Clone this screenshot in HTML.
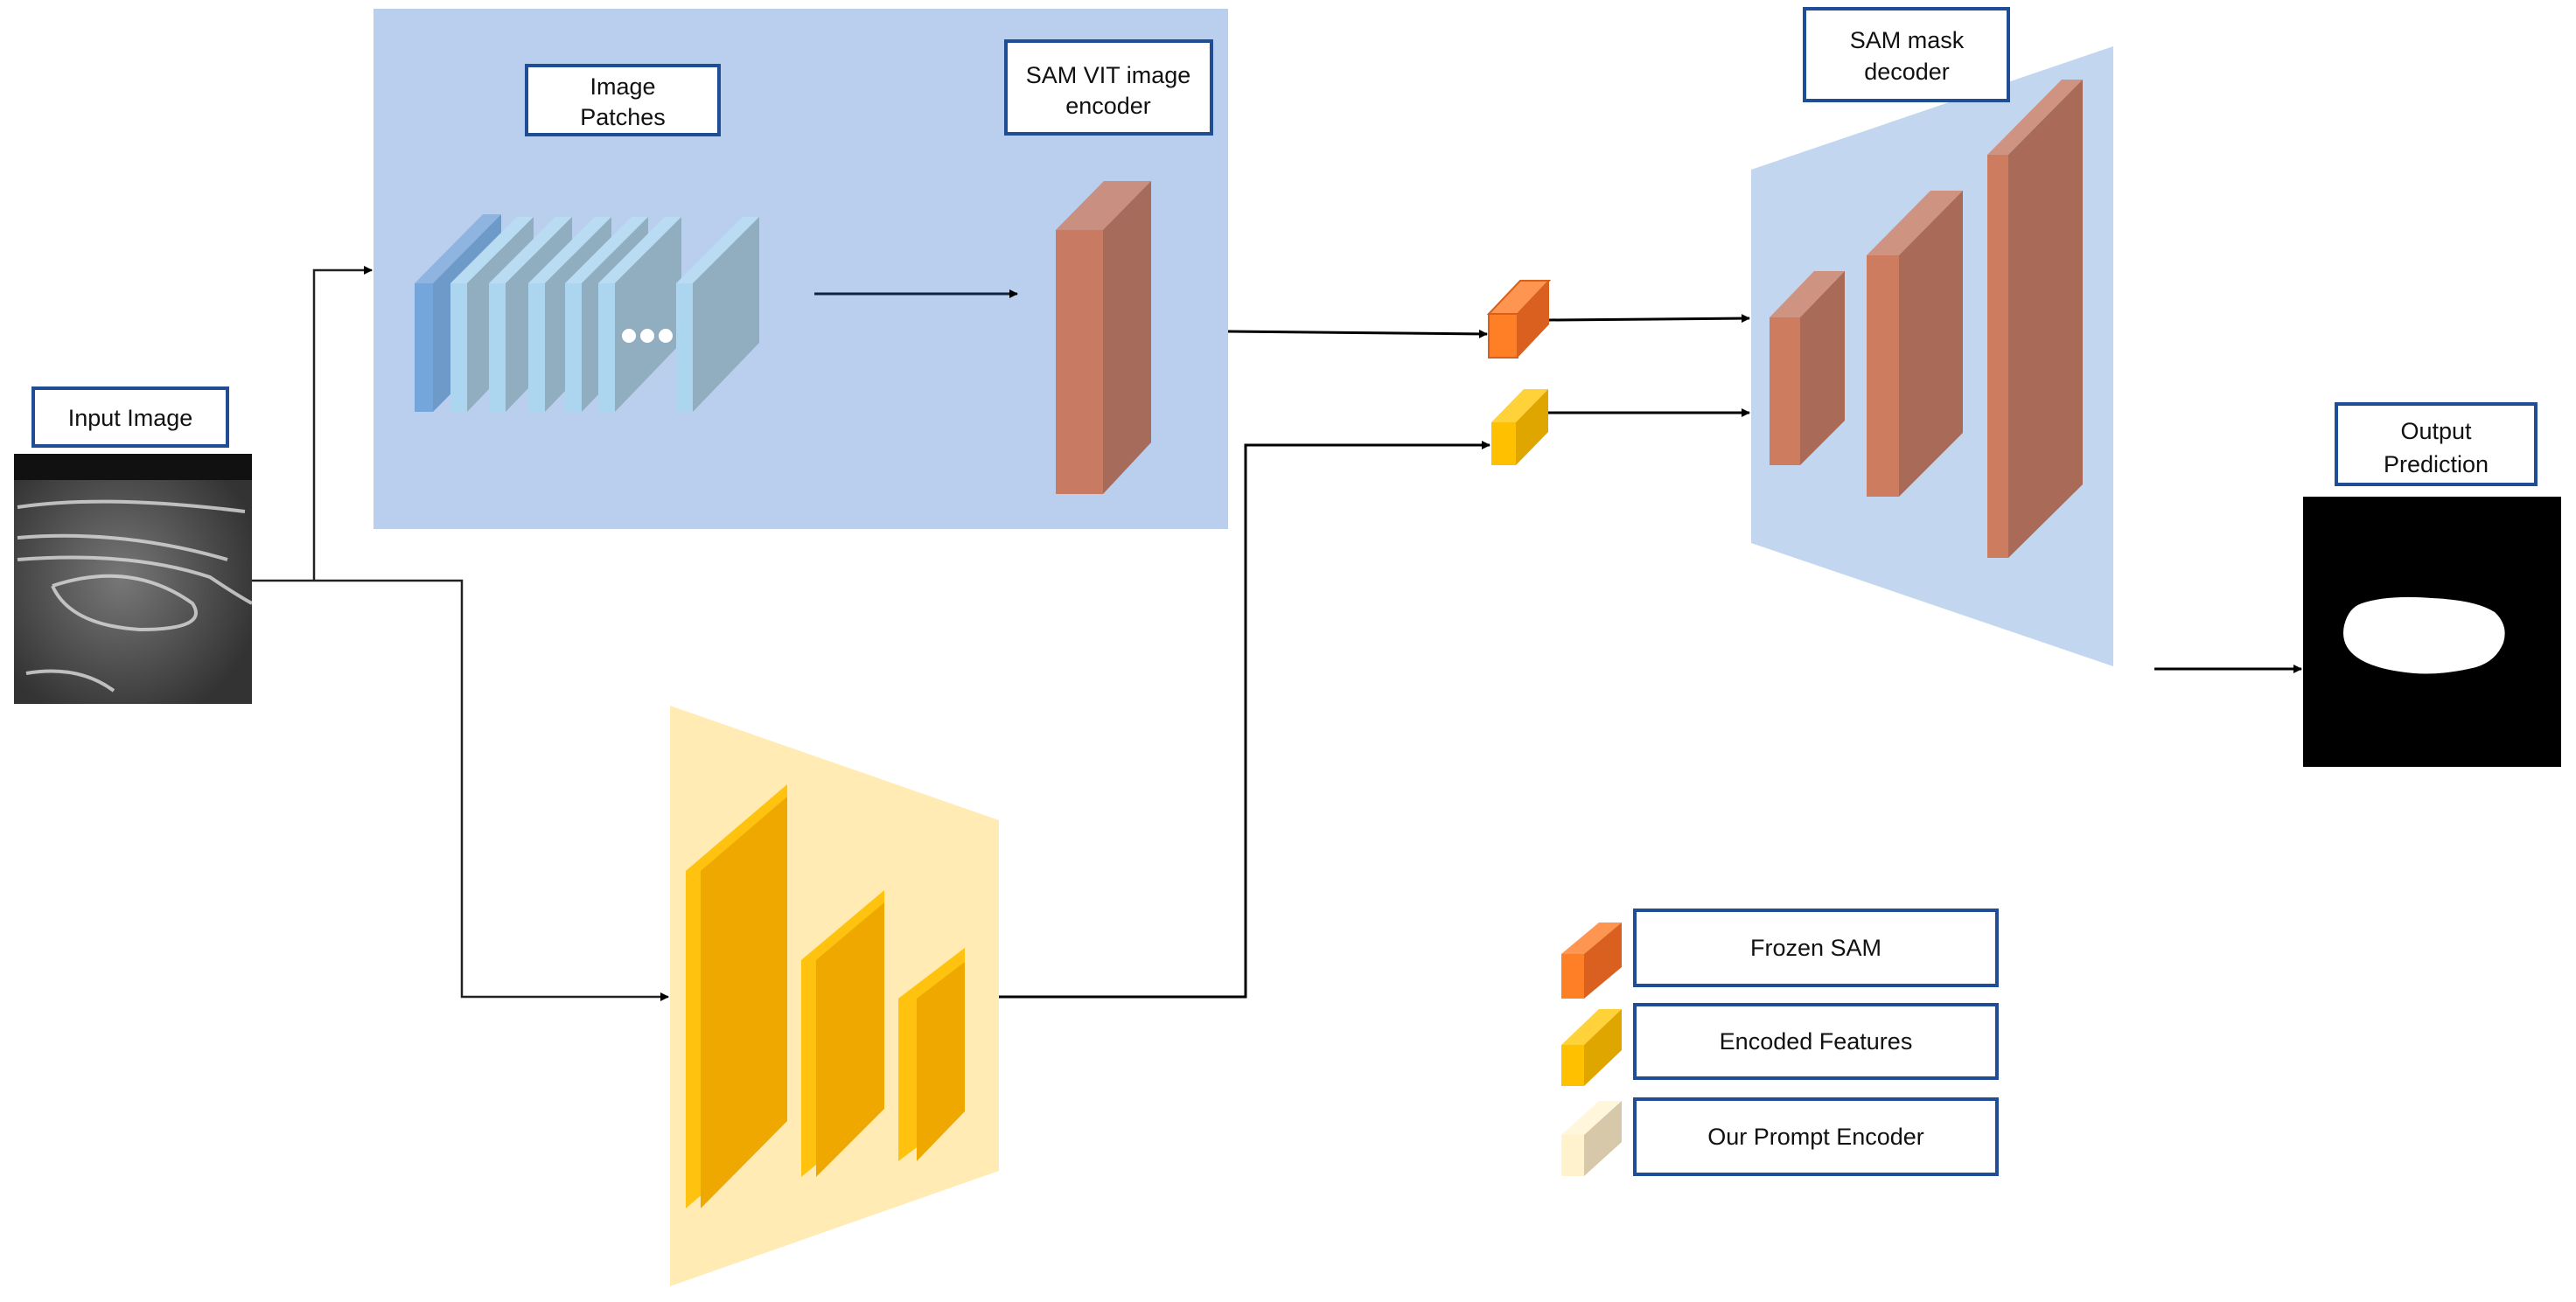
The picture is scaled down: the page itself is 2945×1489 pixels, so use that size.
<!DOCTYPE html>
<html><head><meta charset="utf-8"><style>
html,body{margin:0;padding:0;background:#fff;}
svg{display:block;}
text{font-family:"Liberation Sans",sans-serif;fill:#111;}
</style></head><body>
<svg width="2945" height="1489" viewBox="0 0 2945 1489" xmlns="http://www.w3.org/2000/svg">
<defs>
<marker id="ar" markerWidth="10" markerHeight="10" refX="9" refY="5" orient="auto" markerUnits="userSpaceOnUse" viewBox="0 0 10 10">
<path d="M0,0 L10,5 L0,10 z" fill="#000"/></marker>
<radialGradient id="us" cx="0.45" cy="0.5" r="0.6"><stop offset="0" stop-color="#777"/><stop offset="1" stop-color="#333"/></radialGradient>
</defs>

<!-- blue encoder box -->
<rect x="427" y="10" width="977" height="595" fill="#b9cfed"/>
<!-- decoder trapezoid -->
<polygon points="2002,194 2416,53 2416,762 2002,621" fill="#c2d6f0"/>
<!-- yellow trapezoid -->
<polygon points="766,807 1142,938 1142,1339 766,1471" fill="#ffebb3"/>

<!-- labels -->
<g fill="#fff" stroke="#1f4e96" stroke-width="4">
<rect x="38" y="444" width="222" height="66"/>
<rect x="602" y="75" width="220" height="79"/>
<rect x="1150" y="47" width="235" height="106"/>
<rect x="2063" y="10" width="233" height="105"/>
<rect x="2671" y="462" width="228" height="92"/>
<rect x="1869" y="1041" width="414" height="86"/>
<rect x="1869" y="1149" width="414" height="84"/>
<rect x="1869" y="1257" width="414" height="86"/>
</g>
<g font-size="27" text-anchor="middle">
<text x="149" y="487">Input Image</text>
<text x="712" y="108">Image</text><text x="712" y="143">Patches</text>
<text x="1267" y="95">SAM VIT image</text><text x="1267" y="130">encoder</text>
<text x="2180" y="55">SAM mask</text><text x="2180" y="91">decoder</text>
<text x="2785" y="502">Output</text><text x="2785" y="540">Prediction</text>
<text x="2076" y="1093">Frozen SAM</text>
<text x="2076" y="1200">Encoded Features</text>
<text x="2076" y="1309">Our Prompt Encoder</text>
</g>

<!-- input ultrasound image -->
<rect x="16" y="519" width="272" height="286" fill="url(#us)"/>
<rect x="16" y="519" width="272" height="30" fill="#111"/>
<g fill="none" stroke="#ddd" stroke-width="4" opacity="0.8">
<path d="M20,580 Q120,565 280,585"/>
<path d="M20,615 Q140,605 260,640"/>
<path d="M20,640 Q150,630 240,660 Q270,680 288,690"/>
<path d="M60,670 Q150,640 220,690 Q240,720 160,720 Q80,715 60,670"/>
<path d="M30,770 Q90,760 130,790"/>
</g>

<!-- patches -->
<g>
<polygon points="474,324 495,324 573,245 552,245" fill="#8fb4e0"/>
<rect x="474" y="324" width="21" height="147" fill="#74a6dc"/>
<polygon points="495,324 573,245 573,392 495,471" fill="#6d9ac9"/>
</g>
<g id="p">
</g>
<g fill="#a9d1ef">
</g>
<!-- light patches -->
<g>
<polygon points="515,324 534,324 610,248 591,248" fill="#b9dcf3"/><rect x="515" y="324" width="19" height="147" fill="#acd5f0"/><polygon points="534,324 610,248 610,392 534,471" fill="#91aec0"/>
<polygon points="559,324 578,324 654,248 635,248" fill="#b9dcf3"/><rect x="559" y="324" width="19" height="147" fill="#acd5f0"/><polygon points="578,324 654,248 654,392 578,471" fill="#91aec0"/>
<polygon points="604,324 623,324 699,248 680,248" fill="#b9dcf3"/><rect x="604" y="324" width="19" height="147" fill="#acd5f0"/><polygon points="623,324 699,248 699,392 623,471" fill="#91aec0"/>
<polygon points="646,324 665,324 741,248 722,248" fill="#b9dcf3"/><rect x="646" y="324" width="19" height="147" fill="#acd5f0"/><polygon points="665,324 741,248 741,392 665,471" fill="#91aec0"/>
<polygon points="684,324 703,324 779,248 760,248" fill="#b9dcf3"/><rect x="684" y="324" width="19" height="147" fill="#acd5f0"/><polygon points="703,324 779,248 779,392 703,471" fill="#91aec0"/>
<polygon points="773,324 792,324 868,248 849,248" fill="#b9dcf3"/><rect x="773" y="324" width="19" height="147" fill="#acd5f0"/><polygon points="792,324 868,248 868,392 792,471" fill="#91aec0"/>
</g>
<g fill="#fff"><circle cx="719" cy="384" r="8"/><circle cx="740" cy="384" r="8"/><circle cx="761" cy="384" r="8"/></g>

<!-- encoder block -->
<polygon points="1207,263 1261,263 1316,207 1262,207" fill="#c98f80"/>
<rect x="1207" y="263" width="54" height="302" fill="#c87b62"/>
<polygon points="1261,263 1316,207 1316,506 1261,565" fill="#a66b5b"/>

<!-- decoder blocks -->
<polygon points="2023,363 2058,363 2109,310 2074,310" fill="#cf9382"/>
<rect x="2023" y="363" width="35" height="169" fill="#cd7c5f"/>
<polygon points="2058,363 2109,310 2109,481 2058,532" fill="#a96a58"/>
<polygon points="2134,292 2171,292 2244,218 2207,218" fill="#cf9382"/>
<rect x="2134" y="292" width="37" height="276" fill="#cd7c5f"/>
<polygon points="2171,292 2244,218 2244,495 2171,568" fill="#a96a58"/>
<polygon points="2272,177 2296,177 2381,91 2357,91" fill="#cf9382"/>
<rect x="2272" y="177" width="24" height="461" fill="#cd7c5f"/>
<polygon points="2296,177 2381,91 2381,554 2296,638" fill="#a96a58"/>

<!-- small cubes -->
<polygon points="1702,359 1735,359 1771,321 1738,321" fill="#fe9550" stroke="#d9601a" stroke-width="2"/>
<rect x="1702" y="359" width="33" height="50" fill="#ff7f27" stroke="#d9601a" stroke-width="2"/>
<polygon points="1735,359 1771,321 1771,371 1735,409" fill="#d9601e"/>
<polygon points="1705,483 1733,483 1770,445 1742,445" fill="#ffd23a"/>
<rect x="1705" y="483" width="28" height="49" fill="#ffc000"/>
<polygon points="1733,483 1770,445 1770,494 1733,532" fill="#e0a600"/>

<!-- yellow blocks -->
<polygon points="784,996 900,897 900,1282 784,1382" fill="#ffc20e"/>
<polygon points="801,996 900,911 900,1282 801,1382" fill="#eea800"/>
<polygon points="916,1098 1011,1018 1011,1268 916,1346" fill="#ffc20e"/>
<polygon points="933,1098 1011,1032 1011,1268 933,1346" fill="#eea800"/>
<polygon points="1027,1142 1103,1084 1103,1271 1027,1328" fill="#ffc20e"/>
<polygon points="1048,1142 1103,1100 1103,1271 1048,1328" fill="#eea800"/>

<!-- legend icons -->
<polygon points="1785,1091 1811,1091 1854,1055 1828,1055" fill="#fe9550"/>
<rect x="1785" y="1091" width="26" height="51" fill="#ff7f27"/>
<polygon points="1811,1091 1854,1055 1854,1106 1811,1142" fill="#d9601e"/>
<polygon points="1785,1195 1811,1195 1854,1154 1828,1154" fill="#ffd23a"/>
<rect x="1785" y="1195" width="26" height="47" fill="#ffc000"/>
<polygon points="1811,1195 1854,1154 1854,1201 1811,1242" fill="#e0a600"/>
<polygon points="1785,1298 1811,1298 1854,1259 1828,1259" fill="#fff6dc"/>
<rect x="1785" y="1298" width="26" height="47" fill="#fff2cc"/>
<polygon points="1811,1298 1854,1259 1854,1306 1811,1345" fill="#d6c8a8"/>

<!-- output mask -->
<rect x="2633" y="568" width="295" height="309" fill="#000"/>
<path d="M2700,690 Q2730,680 2780,684 Q2830,686 2852,700 Q2868,715 2862,735 Q2852,760 2822,765 Q2790,772 2760,770 Q2715,766 2695,752 Q2675,738 2680,715 Q2685,695 2700,690 z" fill="#fff"/>

<!-- connectors -->
<g fill="none" stroke="#222" stroke-width="2.5">
<polyline points="288,664 528,664 528,1140 764,1140" marker-end="url(#ar)"/>
<polyline points="359,664 359,309 425,309" marker-end="url(#ar)"/>
<polyline points="1142,1140 1424,1140 1424,509 1703,509" marker-end="url(#ar)" stroke="#000" stroke-width="3"/>
</g>
<g fill="none" stroke="#000" stroke-width="3">
<line x1="931" y1="336" x2="1163" y2="336" marker-end="url(#ar)" stroke="#0f2340"/>
<line x1="1404" y1="379" x2="1700" y2="382" marker-end="url(#ar)"/>
<line x1="1771" y1="366" x2="2000" y2="364" marker-end="url(#ar)"/>
<line x1="1770" y1="472" x2="2000" y2="472" marker-end="url(#ar)"/>
<line x1="2463" y1="765" x2="2631" y2="765" marker-end="url(#ar)"/>
</g>
</svg>
</body></html>
